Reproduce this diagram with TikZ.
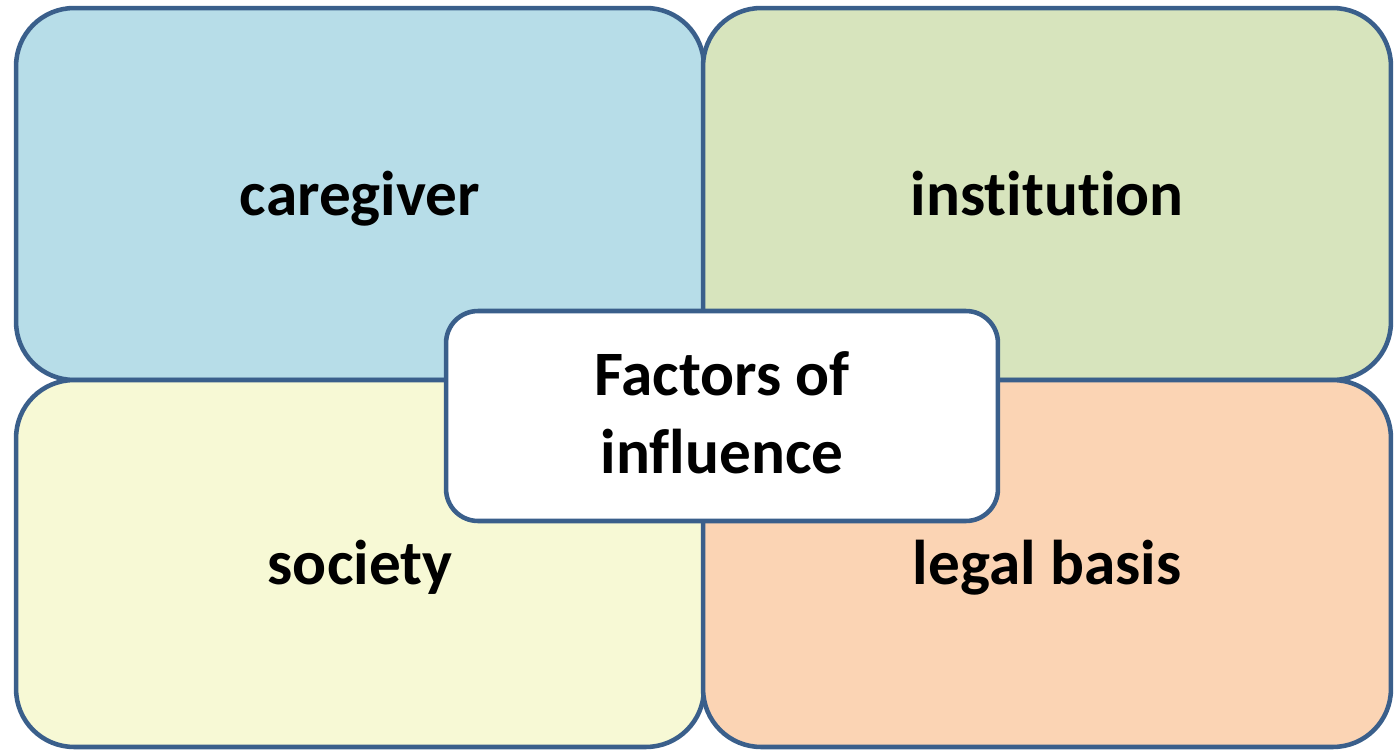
\documentclass[tikz,border=0pt]{standalone}
\usepackage{fontspec}
\setmainfont{Carlito}[Ligatures=NoCommon]
\usetikzlibrary{positioning}

\definecolor{frameblue}{RGB}{58,95,139}
\definecolor{careblue}{RGB}{183,221,232}
\definecolor{instgreen}{RGB}{215,228,189}
\definecolor{socyellow}{RGB}{247,249,213}
\definecolor{legalorange}{RGB}{251,212,180}

\tikzset{
	factor/.style={draw=frameblue, line width=2.6pt, rounded corners=1.16cm,
		minimum width=13.76cm, text height=30pt, text depth=6pt,
		font=\fontsize{36}{44}\selectfont\bfseries},
	hub/.style={draw=frameblue, fill=white, line width=2.6pt, rounded corners=0.64cm,
		minimum width=11.04cm, minimum height=4.2cm, align=center, text depth=4pt,
		font=\fontsize{36}{44}\selectfont\bfseries},
}

\begin{document}
\begin{tikzpicture}[x=0.02cm,y=-0.02cm]
	\useasboundingbox (0,0) rectangle (1395,750);

	%Quadrants
	\node[factor, fill=careblue, minimum height=7.44cm] (caregiver) at (360,194) {caregiver};
	\node[factor, fill=instgreen, minimum height=7.44cm] (institution) at (1047,194) {institution};
	\node[factor, fill=socyellow, minimum height=7.34cm] (society) at (360,563.5) {society};
	\node[factor, fill=legalorange, minimum height=7.34cm] (legal) at (1047,563.5) {legal basis};

	%Centre
	\node[hub] (factors) at (722,416) {Factors of\\influence};
\end{tikzpicture}
\end{document}
